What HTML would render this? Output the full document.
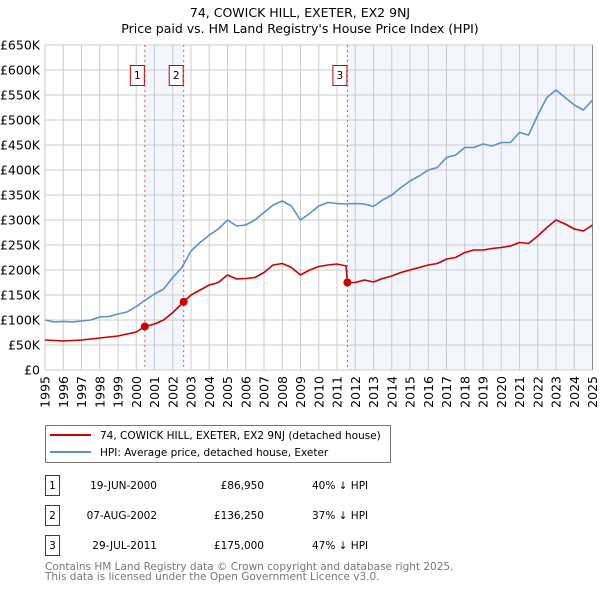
<!DOCTYPE html>
<html><head><meta charset="utf-8"><style>
body{margin:0;background:#fff;width:600px;height:590px;overflow:hidden;font-family:"DejaVu Sans","Liberation Sans",sans-serif}
svg{display:block}
</style></head><body>
<svg id="c" width="600" height="590" xmlns="http://www.w3.org/2000/svg" font-family="DejaVu Sans, Liberation Sans, sans-serif">
<text x="300" y="17" text-anchor="middle" font-size="12.5">74, COWICK HILL, EXETER, EX2 9NJ</text>
<text x="300" y="33" text-anchor="middle" font-size="12.5">Price paid vs. HM Land Registry's House Price Index (HPI)</text>
<g id="plot"></g>
<rect x="45.5" y="425.5" width="345" height="37" fill="#fff" stroke="#777"/>
<line x1="50" y1="435" x2="91" y2="435" stroke="#cc0000" stroke-width="2"/>
<text x="100" y="439" font-size="10.5">74, COWICK HILL, EXETER, EX2 9NJ (detached house)</text>
<line x1="50" y1="452" x2="91" y2="452" stroke="#5b8fd0" stroke-width="2"/>
<text x="100" y="456" font-size="10.5">HPI: Average price, detached house, Exeter</text>
<g font-size="10.5">
<rect x="45.5" y="475.5" width="14" height="20" fill="#fff" stroke="#cc0000"/><text x="52.5" y="489" text-anchor="middle">1</text>
<text x="157" y="489" text-anchor="end">19-JUN-2000</text><text x="264" y="489" text-anchor="end">£86,950</text><text x="312" y="489">40% ↓ HPI</text>
<rect x="45.5" y="505.5" width="14" height="20" fill="#fff" stroke="#cc0000"/><text x="52.5" y="519" text-anchor="middle">2</text>
<text x="157" y="519" text-anchor="end">07-AUG-2002</text><text x="264" y="519" text-anchor="end">£136,250</text><text x="312" y="519">37% ↓ HPI</text>
<rect x="45.5" y="535.5" width="14" height="20" fill="#fff" stroke="#cc0000"/><text x="52.5" y="549" text-anchor="middle">3</text>
<text x="157" y="549" text-anchor="end">29-JUL-2011</text><text x="264" y="549" text-anchor="end">£175,000</text><text x="312" y="549">47% ↓ HPI</text>
</g>
<text x="45" y="570" font-size="10.5" fill="#777">Contains HM Land Registry data © Crown copyright and database right 2025.</text>
<text x="45" y="580" font-size="10.5" fill="#777">This data is licensed under the Open Government Licence v3.0.</text>
</svg>
<script>
const hpiYears=[1995,1995.5,1996,1996.5,1997,1997.5,1998,1998.5,1999,1999.5,2000,2000.5,2001,2001.5,2002,2002.5,2003,2003.5,2004,2004.5,2005,2005.5,2006,2006.5,2007,2007.5,2008,2008.5,2009,2009.5,2010,2010.5,2011,2011.5,2012,2012.5,2013,2013.5,2014,2014.5,2015,2015.5,2016,2016.5,2017,2017.5,2018,2018.5,2019,2019.5,2020,2020.5,2021,2021.5,2022,2022.5,2023,2023.5,2024,2024.5,2025];
const hpiValues=[100,96,97,96,98,100,106,107,112,116,127,140,152,162,185,205,238,255,270,282,300,288,290,300,315,330,338,328,300,313,328,335,333,332,333,332,327,340,350,365,378,388,400,405,425,430,445,445,452,448,455,455,475,470,510,545,560,545,530,520,540];
const propYears=[1995,1996,1997,1998,1999,2000,2000.47,2001,2001.5,2002,2002.6,2003,2003.5,2004,2004.5,2005,2005.5,2006,2006.5,2007,2007.5,2008,2008.5,2009,2009.5,2010,2010.5,2011,2011.5,2011.57,2012,2012.5,2013,2013.5,2014,2014.5,2015,2015.5,2016,2016.5,2017,2017.5,2018,2018.5,2019,2019.5,2020,2020.5,2021,2021.5,2022,2022.5,2023,2023.5,2024,2024.5,2025];
const propValues=[60,58,60,64,68,76,87,92,100,115,136,150,160,170,175,190,182,183,185,195,210,213,205,190,200,207,210,212,208,175,175,180,176,183,188,195,200,205,210,213,222,225,235,240,240,243,245,248,255,253,268,285,300,292,282,278,290];
const saleYears=[2000.47,2002.6,2011.57];
const saleValues=[86.95,136.25,175];
const saleLabels=["1","2","3"];
const yTicks=[0,50,100,150,200,250,300,350,400,450,500,550,600,650];
const xTicks=[1995,1996,1997,1998,1999,2000,2001,2002,2003,2004,2005,2006,2007,2008,2009,2010,2011,2012,2013,2014,2015,2016,2017,2018,2019,2020,2021,2022,2023,2024,2025];
const X0=45,X1=592.5,Y0=370,Y1=45;
const sx=y=>X0+(y-1995)/30*(X1-X0);
const sy=v=>Y0-v/650*(Y0-Y1);
const NS="http://www.w3.org/2000/svg";
const g=document.getElementById('plot');
function mk(t,a){const e=document.createElementNS(NS,t);for(const k in a)e.setAttribute(k,a[k]);g.appendChild(e);return e;}
let r=mk('rect',{x:sx(saleYears[0]),y:Y1,width:sx(saleYears[1])-sx(saleYears[0]),height:Y0-Y1,fill:'#eef3fc',opacity:0.7});


r=mk('rect',{x:sx(saleYears[2]),y:Y1,width:X1-sx(saleYears[2]),height:Y0-Y1,fill:'#eef3fc',opacity:0.7});


yTicks.forEach(v=>{
 const l=mk('line',{x1:X0,x2:X1,y1:sy(v),y2:sy(v),stroke:'#ccc','stroke-width':1});
 
 
 const t=mk('text',{x:40,y:sy(v)+4.5,'text-anchor':'end','font-size':'12.5'});
 t.textContent=v===0?'£0':'£'+v+'K';
 
 
});
xTicks.forEach(y=>{
 const l=mk('line',{x1:sx(y),x2:sx(y),y1:Y1,y2:Y0,stroke:'#ccc','stroke-width':1});
 
 
 const t=mk('text',{x:0,y:0,'text-anchor':'end','font-size':'12.5',transform:`translate(${sx(y)+4.5},${Y0+6}) rotate(-90)`});
 t.textContent=y;
 
 
});
const ax=mk('line',{x1:X1,x2:X1,y1:Y1,y2:Y0,stroke:'#888'});


saleYears.forEach((y,i)=>{
 const l=mk('line',{x1:sx(y),x2:sx(y),y1:Y1,y2:Y0,stroke:'#e55','stroke-dasharray':'2,3','stroke-width':1});
 
 
});
function path(xs,vs,col,name){
 const d=xs.map((x,i)=>(i?'L':'M')+sx(x).toFixed(1)+','+sy(vs[i]).toFixed(1)).join('');
 const p=mk('path',{d:d,fill:'none',stroke:col,'stroke-width':1.6,'stroke-linejoin':'round'});
 
 
}
path(hpiYears,hpiValues,'#5b8fd0','hpi-line');
path(propYears,propValues,'#cc0000','property-line');
saleYears.forEach((y,i)=>{
 const c=mk('circle',{cx:sx(y),cy:sy(saleValues[i]),r:4,fill:'#cc0000'});
 
 
 const b=mk('rect',{x:sx(y)-14.5,y:65.5,width:14,height:20,fill:'#fff',stroke:'#cc0000'});
 
 
 const t=mk('text',{x:sx(y)-7.5,y:79,'text-anchor':'middle','font-size':'10.5'});
 t.textContent=saleLabels[i];
 
 
});
</script>
</body></html>
